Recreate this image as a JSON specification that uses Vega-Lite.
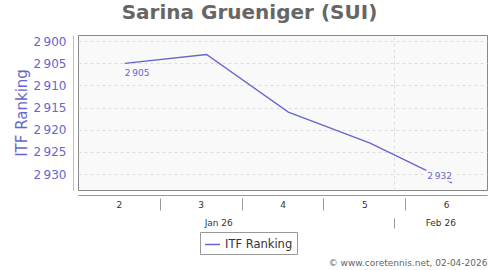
{
  "$schema": "https://vega.github.io/schema/vega-lite/v6.json",
  "width": 409,
  "height": 155,
  "autosize": {"type": "none"},
  "padding": {"left": 78, "top": 35, "right": 13, "bottom": 80},
  "background": "white",
  "title": {"text": "Sarina Grueniger (SUI)", "font": "DejaVu Sans", "fontSize": 20, "fontWeight": "bold", "color": "#666666", "anchor": "middle", "dx": -33, "offset": -4, "baseline": "alphabetic"},
  "config": {
    "font": "DejaVu Sans",
    "view": {"fill": "#f9f9f9", "stroke": "#888888", "strokeWidth": 1},
    "locale": {"number": {"decimal": ".", "thousands": "\u2009", "grouping": [3], "currency": ["", ""]}}
  },
  "data": {"values": [
    {"date": "2026-01-09", "rank": 2905, "series": "ITF Ranking"},
    {"date": "2026-01-16", "rank": 2903, "series": "ITF Ranking"},
    {"date": "2026-01-23", "rank": 2916, "series": "ITF Ranking"},
    {"date": "2026-01-30", "rank": 2923, "series": "ITF Ranking"},
    {"date": "2026-02-06", "rank": 2932, "series": "ITF Ranking"}
  ]},
  "resolve": {"axis": {"x": "independent", "y": "independent"}},
  "layer": [
    {
      "mark": {"type": "point", "opacity": 0},
      "encoding": {
        "x": {"field": "date", "type": "temporal", "scale": {"type": "utc", "domain": [{"year": 2026, "month": 1, "date": 5, "utc": true}, {"year": 2026, "month": 2, "date": 9, "utc": true}]},
          "axis": {"orient": "bottom", "values": [{"year": 2026, "month": 1, "date": 12, "utc": true}, {"year": 2026, "month": 1, "date": 19, "utc": true}, {"year": 2026, "month": 1, "date": 26, "utc": true}, {"year": 2026, "month": 2, "date": 2, "utc": true}],
            "labels": false, "domain": false, "ticks": true, "tickSize": 12, "tickColor": "#999999", "offset": 8, "grid": false, "title": null}}
      }
    },
    {
      "mark": {"type": "point", "opacity": 0},
      "encoding": {
        "x": {"field": "date", "type": "temporal",
          "axis": {"orient": "bottom", "values": [{"year": 2026, "month": 1, "date": 17, "utc": true}, {"year": 2026, "month": 2, "date": 5, "utc": true}],
            "labelExpr": "utcFormat(datum.value, '%b %y')", "ticks": false, "tickSize": 0, "domain": false, "offset": 0, "labelPadding": 28, "labelFontSize": 9, "labelColor": "#333333", "labelFlush": false, "labelOverlap": false, "grid": false, "title": null}}
      }
    },
    {
      "mark": {"type": "point", "opacity": 0},
      "encoding": {
        "x": {"field": "date", "type": "temporal",
          "axis": {"orient": "bottom", "values": [{"year": 2026, "month": 2, "date": 1, "utc": true}],
            "labels": false, "domain": false, "ticks": true, "tickSize": 10, "tickColor": "#999999", "offset": 28,
            "grid": true, "gridDash": [3, 3], "gridColor": "#dddddd",
            "title": "© www.coretennis.net, 02-04-2026", "titleX": 409, "titleY": 47, "titleAlign": "right", "titleAnchor": "end", "titleBaseline": "alphabetic", "titleFontSize": 9, "titleFontWeight": "normal", "titleColor": "#666666"}}
      }
    },
    {
      "mark": {"type": "line", "strokeWidth": 1.3},
      "encoding": {
        "x": {"field": "date", "type": "temporal",
          "axis": {"orient": "bottom", "values": [{"year": 2026, "month": 1, "date": 8, "hours": 12, "utc": true}, {"year": 2026, "month": 1, "date": 15, "hours": 12, "utc": true}, {"year": 2026, "month": 1, "date": 22, "hours": 12, "utc": true}, {"year": 2026, "month": 1, "date": 29, "hours": 12, "utc": true}, {"year": 2026, "month": 2, "date": 5, "hours": 12, "utc": true}],
            "labelExpr": "utcFormat(datum.value, '%-V')", "ticks": false, "tickSize": 0, "domain": true, "domainColor": "#999999", "offset": 5, "labelPadding": 5, "labelFontSize": 9, "labelColor": "#333333", "labelFlush": false, "labelOverlap": false, "grid": false, "title": null}},
        "y": {"field": "rank", "type": "quantitative", "scale": {"domain": [2898.6, 2933.6], "reverse": true, "zero": false, "nice": false},
          "axis": {"orient": "left", "values": [2900, 2905, 2910, 2915, 2920, 2925, 2930], "format": ",", "offset": 5, "domainColor": "#b8b8e0", "ticks": false, "labelPadding": 7, "labelFontSize": 12, "labelColor": "#6666cc",
            "grid": true, "gridDash": [3, 3], "gridColor": "#dddddd",
            "title": "ITF Ranking", "titleFontSize": 15, "titleFontWeight": "normal", "titleColor": "#6666cc", "titlePadding": 4}},
        "color": {"field": "series", "type": "nominal", "scale": {"range": ["#6666cc"]},
          "legend": {"orient": "none", "legendX": 122, "legendY": 197, "title": null, "symbolType": "stroke", "symbolSize": 225, "symbolStrokeWidth": 1.5, "labelFontSize": 11.5, "labelColor": "#333333", "strokeColor": "#999999", "fillColor": "white", "padding": 4, "cornerRadius": 0, "labelOffset": 4}}
      }
    },
    {
      "transform": [{"filter": {"field": "rank", "equal": 2905}}],
      "mark": {"type": "text", "align": "left", "baseline": "top", "dy": 6, "fontSize": 9, "color": "#6666cc"},
      "encoding": {
        "x": {"field": "date", "type": "temporal", "axis": null},
        "y": {"field": "rank", "type": "quantitative", "axis": null},
        "text": {"field": "rank", "type": "quantitative", "format": ","}
      }
    },
    {
      "transform": [{"filter": {"field": "rank", "equal": 2932}}],
      "mark": {"type": "text", "align": "right", "baseline": "alphabetic", "dy": -4, "fontSize": 9, "color": "#f9f9f9", "stroke": "#f9f9f9", "strokeWidth": 5},
      "encoding": {
        "x": {"field": "date", "type": "temporal", "axis": null},
        "y": {"field": "rank", "type": "quantitative", "axis": null},
        "text": {"field": "rank", "type": "quantitative", "format": ","}
      }
    },
    {
      "transform": [{"filter": {"field": "rank", "equal": 2932}}],
      "mark": {"type": "text", "align": "right", "baseline": "alphabetic", "dy": -4, "fontSize": 9, "color": "#6666cc"},
      "encoding": {
        "x": {"field": "date", "type": "temporal", "axis": null},
        "y": {"field": "rank", "type": "quantitative", "axis": null},
        "text": {"field": "rank", "type": "quantitative", "format": ","}
      }
    }
  ]
}
